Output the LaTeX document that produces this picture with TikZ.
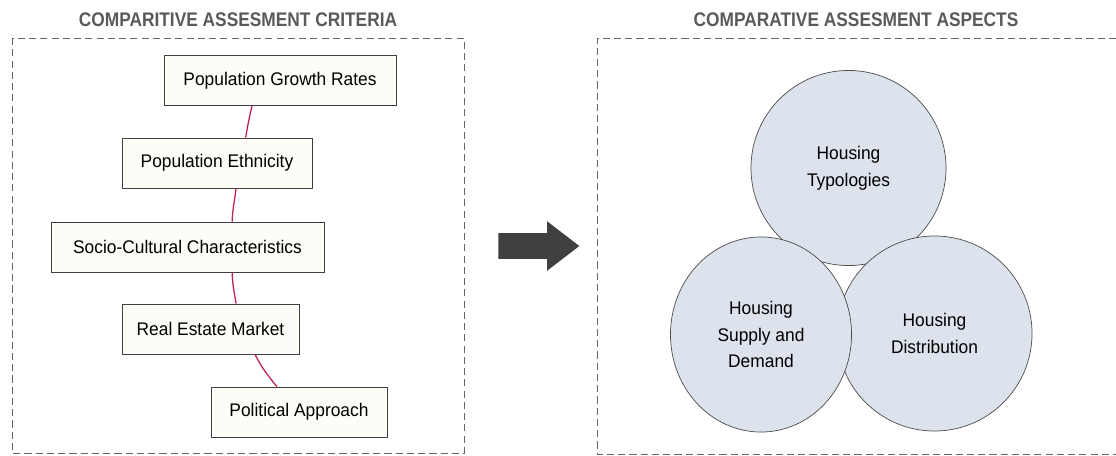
\documentclass[tikz,border=0pt]{standalone}
\usepackage{fontspec}
\setmainfont[FakeStretch=0.95]{Liberation Sans}
\newfontfamily\titlefont[FakeStretch=0.88]{Liberation Sans}
\usepackage{xcolor}
\usepackage{tikz}
\usetikzlibrary{arrows, positioning, shapes, shapes.geometric, shapes.arrows, calc}

\definecolor{linkred}{RGB}{192,32,80}
\definecolor{boxfill}{RGB}{254,252,246}
\definecolor{bubble}{RGB}{221,227,236}
\definecolor{frame}{RGB}{100,100,100}
\definecolor{heading}{RGB}{90,90,90}

\begin{document}
\begin{tikzpicture}[
    x=0.025cm, y=-0.025cm,
    crit/.style={
        rectangle,
        draw=black!75,
        line width=0.6pt,
        fill=boxfill,
        minimum height=1.25cm,
        inner sep=2pt,
        font=\fontsize{13}{15}\selectfont
    },
    aspect/.style={
        circle,
        draw=black!70,
        line width=0.5pt,
        fill=bubble,
        minimum size=4.875cm,
        inner sep=0pt,
        align=center,
        font=\fontsize{13}{19}\selectfont
    },
    link/.style={linkred, line width=0.9pt},
    title/.style={text=heading, font=\titlefont\bfseries\fontsize{14}{16}\selectfont},
    framebox/.style={frame, line width=0.7pt, dash pattern=on 5pt off 3pt}
]
\useasboundingbox (0,0) rectangle (1116,455);

% frames and headings
\draw[framebox] (12,38) rectangle (464,453);
\draw[framebox] (1116,38) -- (597,38) -- (597,454) -- (1116,454);
\node[title] (crithead) at (238,20) {COMPARITIVE ASSESMENT CRITERIA};
\node[title] (asphead) at (856,20) {COMPARATIVE ASSESMENT ASPECTS};

% criteria
\node[crit, minimum width=5.8cm] (grow) at (280,80.5) {Population Growth Rates};
\node[crit, minimum width=4.75cm] (ethnic) at (217,163) {Population Ethnicity};
\node[crit, minimum width=6.825cm] (socio) at (187.5,247) {Socio-Cultural Characteristics};
\node[crit, minimum width=4.425cm] (estate) at (210.5,329) {Real Estate Market};
\node[crit, minimum width=4.4cm] (policy) at (299,412) {Political Approach};

\draw[link] ($(grow.south west)!0.38!(grow.south east)$) to[out=256, in=80] ($(ethnic.north west)!0.65!(ethnic.north east)$);
\draw[link] ($(ethnic.south west)!0.6!(ethnic.south east)$) to[out=263, in=88] ($(socio.north west)!0.663!(socio.north east)$);
\draw[link] ($(socio.south west)!0.663!(socio.south east)$) to[out=272, in=100] ($(estate.north west)!0.644!(estate.north east)$);
\draw[link] ($(estate.south west)!0.75!(estate.south east)$) to[out=297, in=129] ($(policy.north west)!0.375!(policy.north east)$);

% arrow between the two panels
\node[single arrow, fill=black!75, draw=none, inner xsep=0pt, inner ysep=0.3125cm,
      minimum height=2.025cm, minimum width=1.225cm,
      single arrow head extend=0.3cm, single arrow tip angle=75] (go) at (530.5,246) {};

% aspects
\node[aspect] (typol) at (848.5,168) {Housing\\Typologies};
\node[aspect] (distr) at (934.5,333.5) {Housing\\Distribution};
\node[aspect, ellipse, minimum width=4.525cm, minimum height=4.875cm] (supply) at (761,334.5) {Housing\\Supply and\\Demand};

\end{tikzpicture}
\end{document}
